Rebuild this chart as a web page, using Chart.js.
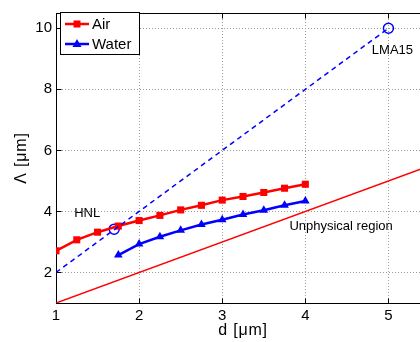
<!DOCTYPE html>
<html>
<head>
<meta charset="utf-8">
<script src="https://cdn.jsdelivr.net/npm/chart.js@4.4.1/dist/chart.umd.min.js"></script>
<style>
  html, body { margin: 0; padding: 0; background: #fff; overflow: hidden; }
  #wrap { width: 420px; height: 342px; overflow: hidden; }
</style>
</head>
<body>
<div id="wrap"><canvas id="c" width="440" height="342"></canvas></div>
<script>
// Pitch Λ versus hole diameter d
const dAir = [1, 1.25, 1.5, 1.75, 2, 2.25, 2.5, 2.75, 3, 3.25, 3.5, 3.75, 4];
const lambdaAir = [2.71, 3.07, 3.32, 3.52, 3.70, 3.87, 4.05, 4.20, 4.37, 4.49, 4.62, 4.76, 4.89];
const dWater = [1.75, 2, 2.25, 2.5, 2.75, 3, 3.25, 3.5, 3.75, 4];
const lambdaWater = [2.57, 2.93, 3.17, 3.38, 3.57, 3.73, 3.90, 4.04, 4.20, 4.34];

// commercial fibres and the line through them
const fibreNames = ['HNL', 'LMA15'];
const fibreD = [1.70, 5];
const fibreLambda = [3.42, 10];
const guideD = [1, 5];
const guideLambda = [2, 10];

// Λ = d boundary
const limitD = [1, 5.5];
const limitLambda = [1, 5.5];

const xTicks = [1, 2, 3, 4, 5];
const yTicks = [2, 4, 6, 8, 10];

const FONT = '"Liberation Sans", Arial, Helvetica, sans-serif';
const RED = '#ff0000';
const BLUE = '#0000ff';

const pts = (xs, ys) => xs.map((x, i) => ({ x, y: ys[i] }));

const frame = {
  id: 'frame',
  beforeDatasetsDraw(chart) {
    const { ctx, chartArea: a, scales: { x, y } } = chart;
    ctx.save();
    ctx.strokeStyle = '#9a9a9a';
    ctx.lineWidth = 1;
    ctx.setLineDash([1, 2]);
    xTicks.forEach(v => {
      const px = Math.round(x.getPixelForValue(v)) + 0.5;
      ctx.beginPath(); ctx.moveTo(px, a.top); ctx.lineTo(px, a.bottom); ctx.stroke();
    });
    yTicks.forEach(v => {
      const py = Math.round(y.getPixelForValue(v)) + 0.5;
      ctx.beginPath(); ctx.moveTo(a.left, py); ctx.lineTo(a.right, py); ctx.stroke();
    });
    ctx.setLineDash([]);
    ctx.strokeStyle = '#000';
    const L = Math.round(a.left) + 0.5, R = Math.round(a.right) + 0.5;
    const T = Math.round(a.top) + 0.5, B = Math.round(a.bottom) + 0.5;
    ctx.strokeRect(L, T, R - L, B - T);
    const tl = 5;
    xTicks.forEach(v => {
      const px = Math.round(x.getPixelForValue(v)) + 0.5;
      ctx.beginPath();
      ctx.moveTo(px, B); ctx.lineTo(px, B - tl);
      ctx.moveTo(px, T); ctx.lineTo(px, T + tl);
      ctx.stroke();
    });
    yTicks.forEach(v => {
      const py = Math.round(y.getPixelForValue(v)) + 0.5;
      ctx.beginPath();
      ctx.moveTo(L, py); ctx.lineTo(L + tl, py);
      ctx.moveTo(R, py); ctx.lineTo(R - tl, py);
      ctx.stroke();
    });

    // axis titles
    ctx.fillStyle = '#000';
    ctx.font = '16px ' + FONT;
    ctx.letterSpacing = '0.8px';
    ctx.textAlign = 'center';
    ctx.textBaseline = 'middle';
    ctx.fillText('d [μm]', (a.left + 430) / 2, 331);
    ctx.save();
    ctx.translate(22, (a.top + a.bottom) / 2);
    ctx.rotate(-Math.PI / 2);
    ctx.fillText('Λ [μm]', 0, 0);
    ctx.restore();
    ctx.letterSpacing = '0px';
    ctx.restore();
  },
  afterDraw(chart) {
    const { ctx, scales: { x, y } } = chart;
    ctx.save();
    // text labels
    ctx.fillStyle = '#000';
    ctx.font = '13px ' + FONT;
    ctx.textAlign = 'center';
    ctx.textBaseline = 'middle';
    const offs = [[-27, -16], [4, 22]];
    fibreNames.forEach((n, i) => {
      ctx.fillText(n, x.getPixelForValue(fibreD[i]) + offs[i][0], y.getPixelForValue(fibreLambda[i]) + offs[i][1]);
    });
    ctx.fillText('Unphysical region', x.getPixelForValue(4.43), y.getPixelForValue(3.5));

    // legend
    const bx = 60.5, by = 12.5, bw = 79, bh = 42;
    ctx.fillStyle = '#fff';
    ctx.fillRect(bx, by, bw, bh);
    ctx.strokeStyle = '#000';
    ctx.lineWidth = 1;
    ctx.strokeRect(bx, by, bw, bh);
    const items = [
      { label: 'Air', color: RED, style: 'rect', cy: 24 },
      { label: 'Water', color: BLUE, style: 'triangle', cy: 44 }
    ];
    items.forEach(it => {
      ctx.strokeStyle = it.color;
      ctx.lineWidth = 2.5;
      ctx.beginPath(); ctx.moveTo(65, it.cy); ctx.lineTo(89, it.cy); ctx.stroke();
      ctx.fillStyle = it.color;
      if (it.style === 'rect') {
        ctx.fillRect(73.5, it.cy - 3.5, 7, 7);
      } else {
        ctx.beginPath();
        ctx.moveTo(77, it.cy - 5); ctx.lineTo(81.5, it.cy + 3); ctx.lineTo(72.5, it.cy + 3);
        ctx.closePath(); ctx.fill();
      }
      ctx.fillStyle = '#000';
      ctx.font = '15px ' + FONT;
      ctx.textAlign = 'left';
      ctx.fillText(it.label, 92, it.cy + 1);
    });
    ctx.restore();
  }
};

new Chart(document.getElementById('c'), {
  type: 'scatter',
  data: {
    datasets: [
      { label: 'limit', data: pts(limitD, limitLambda), showLine: true, borderColor: RED, borderWidth: 1.5, pointRadius: 0 },
      { label: 'guide', data: pts(guideD, guideLambda), showLine: true, borderColor: BLUE, borderWidth: 1.5, borderDash: [5, 4], pointRadius: 0 },
      { label: 'Air', data: pts(dAir, lambdaAir), showLine: true, borderColor: RED, backgroundColor: RED, borderWidth: 2.5,
        pointStyle: 'rect', pointRadius: 5, pointBorderWidth: 0 },
      { label: 'Water', data: pts(dWater, lambdaWater), showLine: true, borderColor: BLUE, backgroundColor: BLUE, borderWidth: 2.5,
        pointStyle: 'triangle', pointRadius: 5, pointBorderWidth: 0 },
      { label: 'fibres', data: pts(fibreD, fibreLambda), showLine: false, borderColor: BLUE, backgroundColor: 'rgba(0,0,0,0)',
        pointStyle: 'circle', pointRadius: 5, pointBorderWidth: 1.5 }
    ]
  },
  options: {
    responsive: false,
    animation: false,
    events: [],
    layout: { padding: { top: 8, right: 10, left: 0, bottom: 0 } },
    plugins: { legend: { display: false }, tooltip: { enabled: false } },
    scales: {
      x: {
        type: 'linear', min: 1, max: 5.5,
        afterBuildTicks: s => { s.ticks = xTicks.map(v => ({ value: v })); },
        afterFit: s => { s.height = 39; },
        grid: { display: false, drawTicks: false },
        border: { display: false },
        ticks: { padding: 4, color: '#000', font: { family: FONT, size: 15 } },
        title: { display: false }
      },
      y: {
        type: 'linear', min: 1, max: 10.5,
        afterBuildTicks: s => { s.ticks = yTicks.map(v => ({ value: v })); },
        afterFit: s => { s.width = 56; },
        grid: { display: false, drawTicks: false },
        border: { display: false },
        ticks: { padding: 4, color: '#000', font: { family: FONT, size: 15 } },
        title: { display: false }
      }
    }
  },
  plugins: [frame]
});
</script>
</body>
</html>
